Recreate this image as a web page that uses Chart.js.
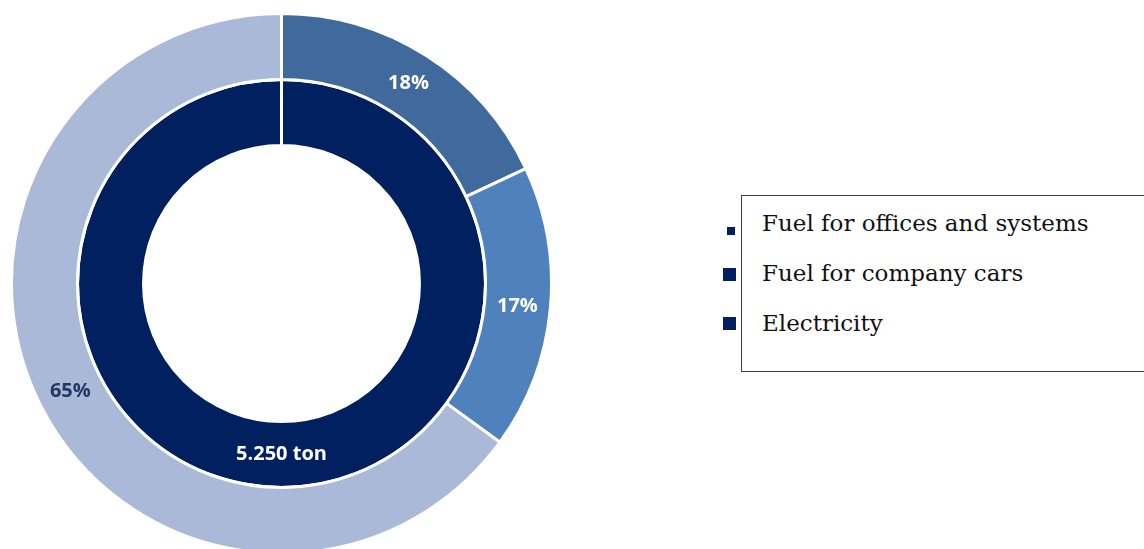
<!DOCTYPE html>
<html>
<head>
<meta charset="utf-8">
<script src="https://cdn.jsdelivr.net/npm/chart.js@4"></script>
<style>
  html, body { margin: 0; padding: 0; background: #fff; width: 1144px; height: 549px; overflow: hidden; }
  #wrap { position: absolute; left: 10px; top: 12px; width: 543px; height: 543px; }
  #legend {
    position: absolute; left: 741px; top: 195px; width: 420px; height: 177px;
    border: 1px solid #404040; box-sizing: border-box;
    font-family: "DejaVu Serif", serif; font-size: 23px; color: #111;
  }
  .item { position: absolute; left: 20px; white-space: nowrap; }
  .sw { position: absolute; background: #002060; }
</style>
</head>
<body>
<div id="wrap"><canvas id="donut"></canvas></div>
<div id="legend"></div>
<script>
// outer ring: shares of emissions
const categories = ['Fuel for offices and systems', 'Fuel for company cars', 'Electricity'];
const shares = [18, 17, 65];
const shareColors = ['#416A9C', '#4F81BD', '#AAB9D7'];
const shareLabelColors = ['#fff', '#fff', '#1F3864'];

// inner ring: total
const totalValue = [5250];
const totalLabel = '5.250 ton';

// legend (built from categories)
const legendEl = document.getElementById('legend');
const swatchSizes = [8, 13, 13];
categories.forEach((c, i) => {
  const t = document.createElement('div');
  t.className = 'item';
  t.style.top = (14 + i * 50) + 'px';
  t.textContent = c;
  legendEl.appendChild(t);
  const s = document.createElement('div');
  s.className = 'sw';
  const sz = swatchSizes[i];
  s.style.width = sz + 'px';
  s.style.height = sz + 'px';
  s.style.left = (-19 + (13 - sz) / 2 + (i == 0 ? 1 : 0)) + 'px';
  s.style.top = (i == 0 ? 31 : 72 + (i - 1) * 49) + 'px';
  legendEl.appendChild(s);
});

// draws the percentage / total text at each arc's centre
const arcLabels = {
  id: 'arcLabels',
  afterDatasetsDraw(chart) {
    const ctx = chart.ctx;
    ctx.save();
    ctx.font = 'bold 20px "Open Sans"';
    ctx.textAlign = 'center';
    ctx.textBaseline = 'middle';
    chart.getDatasetMeta(0).data.forEach((arc, i) => {
      const p = arc.tooltipPosition();
      ctx.fillStyle = shareLabelColors[i];
      ctx.fillText(shares[i] + '%', p.x, p.y);
    });
    chart.getDatasetMeta(1).data.forEach(arc => {
      const p = arc.tooltipPosition();
      ctx.fillStyle = '#fff';
      ctx.fillText(totalLabel, p.x, p.y);
    });
    ctx.restore();
  }
};

const donutChart = new Chart(document.getElementById('donut').getContext('2d'), {
  type: 'doughnut',
  data: {
    labels: categories,
    datasets: [{
      data: shares,
      backgroundColor: shareColors,
      borderColor: '#fff',
      borderWidth: 3
    },
    {
      data: totalValue,
      backgroundColor: ['#002060'],
      borderColor: '#fff',
      borderWidth: 3
    }]
  },
  options: {
    responsive: true,
    maintainAspectRatio: false,
    animation: false,
    cutout: '51.1%',
    layout: { padding: 0 },
    plugins: {
      legend: { display: false },
      tooltip: { enabled: false }
    }
  },
  plugins: [arcLabels]
});
</script>
</body>
</html>
